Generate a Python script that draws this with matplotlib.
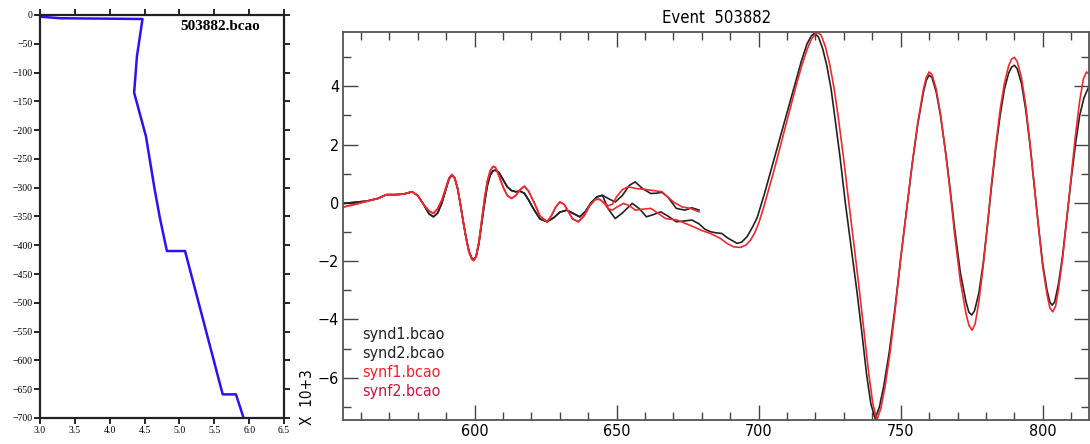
import numpy as np
import matplotlib
matplotlib.use('Agg')
import matplotlib.pyplot as plt
from matplotlib.ticker import MultipleLocator

# velocity profile (left panel)
vel = [3.0, 3.29, 4.47, 4.39, 4.35, 4.52, 4.64, 4.72, 4.82, 5.08, 5.62, 5.81, 5.92]
depth = [-3, -5.7, -7, -72, -135, -211, -300, -353, -410, -410, -659, -659, -700]
profile_name = '503882.bcao'

# seismograms (right panel), amplitude in units of 10^3
# common start, black (synd) and red (synf)
t_early_d = [554, 558, 562, 566, 569, 572, 575, 578, 580, 582, 584, 585.5, 587, 588.5,
             590, 591, 592, 593, 594, 595, 596, 597, 598, 599, 599.7, 600.5, 601.5,
             602.5, 603.5, 604.5, 605.5, 606.5, 607.3, 608.5, 610, 611.5, 613, 614.5,
             616, 617.5, 619, 621, 623, 625.5, 628, 630, 632.5, 635, 637, 639, 641, 643, 645]
synd_early = [-0.02, 0.02, 0.06, 0.15, 0.28, 0.28, 0.30, 0.38, 0.25, -0.05, -0.38, -0.48,
              -0.35, 0.0, 0.5, 0.82, 0.95, 0.85, 0.5, -0.05, -0.65, -1.2, -1.65, -1.9,
              -1.95, -1.85, -1.4, -0.7, 0.0, 0.6, 0.95, 1.1, 1.12, 1.05, 0.8, 0.55, 0.42,
              0.38, 0.4, 0.33, 0.1, -0.25, -0.55, -0.65, -0.5, -0.32, -0.25, -0.38, -0.48,
              -0.3, 0.0, 0.2, 0.26]
t_early_f = [554, 558, 562, 566, 569, 572, 575, 578, 580, 582, 584, 585.5, 587, 588.5,
             590, 591, 592, 593, 594, 595, 596, 597, 598, 599, 599.7, 600.5, 601.5,
             602.5, 603.5, 604.5, 605.5, 606.5, 607.3, 608.5, 610, 611.5, 613, 614.5,
             616, 617.5, 619, 621, 623, 625.5, 627, 628.5, 630, 631.5, 633, 634.5, 636.5,
             638.5, 640.5, 642.5, 644, 645.5]
synf_early = [-0.14, -0.05, 0.05, 0.15, 0.28, 0.28, 0.30, 0.38, 0.25, -0.05, -0.28, -0.36,
              -0.2, 0.1, 0.55, 0.85, 0.97, 0.85, 0.5, -0.05, -0.65, -1.2, -1.68, -1.93,
              -1.98, -1.85, -1.35, -0.6, 0.15, 0.75, 1.1, 1.25, 1.22, 0.95, 0.55, 0.25,
              0.15, 0.25, 0.45, 0.57, 0.4, 0.0, -0.45, -0.65, -0.45, -0.15, 0.03, -0.05,
              -0.3, -0.55, -0.65, -0.45, -0.1, 0.12, 0.12, 0.0]

t_d1 = [647, 649.5, 652, 654.5, 656.5, 659, 662, 664, 666, 668, 671, 674, 676.5, 679]
synd1_tail = [0.15, 0.03, 0.25, 0.6, 0.72, 0.5, 0.32, 0.33, 0.36, 0.2, -0.19, -0.25, -0.17, -0.25]

t_f1 = [647, 648.5, 650, 652, 654, 657, 660, 663, 666, 668, 670, 673, 676, 679]
synf1_tail = [-0.1, -0.05, 0.21, 0.45, 0.55, 0.49, 0.46, 0.42, 0.38, 0.2, 0.03, -0.14, -0.19, -0.31]

t_d2 = [647, 649.5, 652, 655.5, 658, 660.5, 663, 665.5, 668, 671, 674, 676.5, 679, 681,
        683, 685, 687, 689, 692.4, 694, 696, 698, 699.5, 700.6, 702, 704, 706, 708, 710,
        712, 715, 717, 718.5, 719.5, 721, 722.5, 724, 725.5, 727, 728.7, 730.5, 732.5,
        734.6, 736.5, 738, 739.5, 741, 742.5, 744, 746, 748, 750, 752, 754, 756, 758,
        759, 760, 761, 762.5, 764, 766, 767.5, 769, 771, 773, 774, 775, 776, 777.5, 779,
        780.5, 782, 783.5, 785, 786.5, 788, 789, 790, 791, 792.5, 794, 795.5, 797, 798.5,
        800, 801.5, 802.5, 803.3, 804.2, 805.5, 807, 808.5, 810, 811.5, 813, 814.5, 816.5]
synd2_tail = [-0.2, -0.54, -0.35, -0.02, -0.2, -0.48, -0.4, -0.31, -0.45, -0.65, -0.62,
              -0.59, -0.72, -0.9, -0.99, -1.03, -1.05, -1.2, -1.39, -1.35, -1.15, -0.8,
              -0.5, -0.15, 0.3, 1.0, 1.7, 2.4, 3.1, 3.8, 4.85, 5.45, 5.72, 5.81, 5.7, 5.3,
              4.7, 3.9, 2.8, 1.52, 0.0, -1.5, -3.05, -4.6, -5.9, -6.9, -7.4, -7.0, -6.3,
              -5.1, -3.6, -1.9, -0.3, 1.3, 2.7, 3.8, 4.2, 4.38, 4.3, 3.8, 3.0, 1.6, 0.38,
              -0.9, -2.4, -3.4, -3.75, -3.85, -3.7, -3.1, -2.1, -0.8, 0.6, 1.9, 3.0, 3.9,
              4.45, 4.65, 4.72, 4.6, 4.1, 3.2, 2.0, 0.6, -0.8, -2.1, -3.0, -3.4, -3.51,
              -3.4, -2.8, -1.8, -0.5, 0.8, 2.0, 3.0, 3.6, 4.05]

t_f2 = [647, 648.5, 650, 652.4, 654.5, 656.6, 659, 662, 664.5, 667.2, 671.3, 674, 677,
        680, 683, 686.5, 689, 691.2, 693.6, 695.5, 697, 698.5, 700, 701.8, 703.5, 705.5,
        707.5, 709.4, 711, 713, 715, 717, 718.5, 720, 720.8, 722, 723.5, 725, 726.5, 728,
        729.9, 731.5, 733.5, 735.5, 737.3, 738.8, 740.2, 741.6, 743, 744.5, 746.3, 748,
        750, 752, 754, 756, 758, 759, 760, 761, 762.5, 764, 766, 767.5, 769, 771, 773,
        774, 775.1, 776.2, 777.5, 779, 780.5, 782, 783.5, 785, 786.5, 788, 789, 790, 791,
        792.5, 794, 795.5, 797, 798.5, 800, 801.5, 802.5, 803.5, 804.5, 805.5, 807, 808.5,
        810, 811.5, 813, 814.3, 815.4, 816.5]
synf2_tail = [-0.2, -0.25, -0.15, -0.02, -0.1, -0.25, -0.22, -0.19, -0.35, -0.54, -0.59,
              -0.7, -0.82, -0.95, -1.05, -1.22, -1.4, -1.51, -1.53, -1.45, -1.3, -1.05,
              -0.7, -0.14, 0.45, 1.15, 1.9, 2.6, 3.2, 3.95, 4.65, 5.25, 5.6, 5.8, 5.84,
              5.75, 5.35, 4.75, 3.95, 2.95, 1.52, 0.2, -1.4, -3.05, -4.6, -5.9, -6.9,
              -7.45, -7.05, -6.3, -5.1, -3.7, -1.9, -0.3, 1.3, 2.75, 3.9, 4.3, 4.49, 4.4,
              3.9, 3.05, 1.55, 0.3, -1.1, -2.7, -3.8, -4.2, -4.37, -4.15, -3.4, -2.2, -0.8,
              0.7, 2.0, 3.2, 4.1, 4.7, 4.93, 4.99, 4.85, 4.3, 3.35, 2.05, 0.6, -0.85, -2.2,
              -3.15, -3.6, -3.74, -3.55, -3.0, -1.9, -0.5, 0.9, 2.3, 3.5, 4.25, 4.49, 4.4]

labels = ['synd1.bcao', 'synd2.bcao', 'synf1.bcao', 'synf2.bcao']
label_colors = ['#222222', '#222222', '#f0202a', '#d01040']

narrow = ['DejaVu Sans']
serif = ['Liberation Serif', 'DejaVu Serif']

fig = plt.figure(figsize=(10.9, 4.44), dpi=100)

# ---- left: velocity profile
ax1 = fig.add_axes([0.0367, 0.0586, 0.2239, 0.9077])
ax1.plot(vel, depth, color='#3010f0', lw=1.8)
ax1.set_xlim(3.0, 6.5)
ax1.set_ylim(-700, 0)
ax1.xaxis.set_major_locator(MultipleLocator(0.5))
ax1.yaxis.set_major_locator(MultipleLocator(50))
ax1.xaxis.set_major_formatter(matplotlib.ticker.FormatStrFormatter('%.1f'))
ax1.tick_params(direction='out', length=4, width=1.2, top=True, right=True,
                labelsize=7, pad=1.5)
for lab in ax1.get_xticklabels() + ax1.get_yticklabels():
    lab.set_family(serif)
for s in ax1.spines.values():
    s.set_linewidth(1.6)
    s.set_color('#222222')
ax1.text(0.74, 0.972, profile_name, transform=ax1.transAxes, ha='center', va='center',
         fontsize=11, fontweight='bold', family=serif)

# ---- right: seismograms
lw = 1.2
ax2 = fig.add_axes([0.315, 0.054, 0.6844, 0.8746])
ax2.plot(t_early_d + t_d1, synd_early + synd1_tail, color='#222222', lw=lw)
ax2.plot(t_early_d + t_d2, synd_early + synd2_tail, color='#222222', lw=lw)
ax2.plot(t_early_f + t_f1, synf_early + synf1_tail, color='#ec2a32', lw=lw)
ax2.plot(t_early_f + t_f2, synf_early + synf2_tail, color='#ec2a32', lw=lw)
ax2.set_xlim(553.8, 816.4)
ax2.set_ylim(-7.45, 5.87)
ax2.xaxis.set_major_locator(MultipleLocator(50))
ax2.xaxis.set_minor_locator(MultipleLocator(10))
ax2.yaxis.set_major_locator(MultipleLocator(2))
ax2.yaxis.set_minor_locator(MultipleLocator(1))
ax2.tick_params(which='major', direction='in', length=11, width=1.0, top=True,
                right=True, labelsize=11.5, pad=3, color='#444444')
ax2.tick_params(which='minor', direction='in', length=6, width=1.0, top=True,
                right=True, color='#444444')
ax2.yaxis.set_major_formatter(matplotlib.ticker.FuncFormatter(
    lambda v, p: ('\u2212%d' % -v) if v < 0 else '%d' % v))
for lab in ax2.get_xticklabels() + ax2.get_yticklabels():
    lab.set_family(narrow)
    lab.set_fontstretch('condensed')
for s in ax2.spines.values():
    s.set_linewidth(1.3)
    s.set_color('#555555')
ax2.set_title('Event  503882', fontsize=12, family=narrow, fontstretch='condensed', pad=6)

for i, (lab, col) in enumerate(zip(labels, label_colors)):
    ax2.text(0.0247, 0.219 - i * 0.0487, lab, transform=ax2.transAxes, color=col,
             fontsize=11.5, family=narrow, fontstretch='condensed', ha='left', va='center')

fig.text(308 / 1090, 1 - 397 / 444, 'X  10+3', rotation=90, ha='center', va='center',
         fontsize=11, family=narrow, fontstretch='condensed')

fig.savefig('out.png', dpi=100, facecolor='white')
